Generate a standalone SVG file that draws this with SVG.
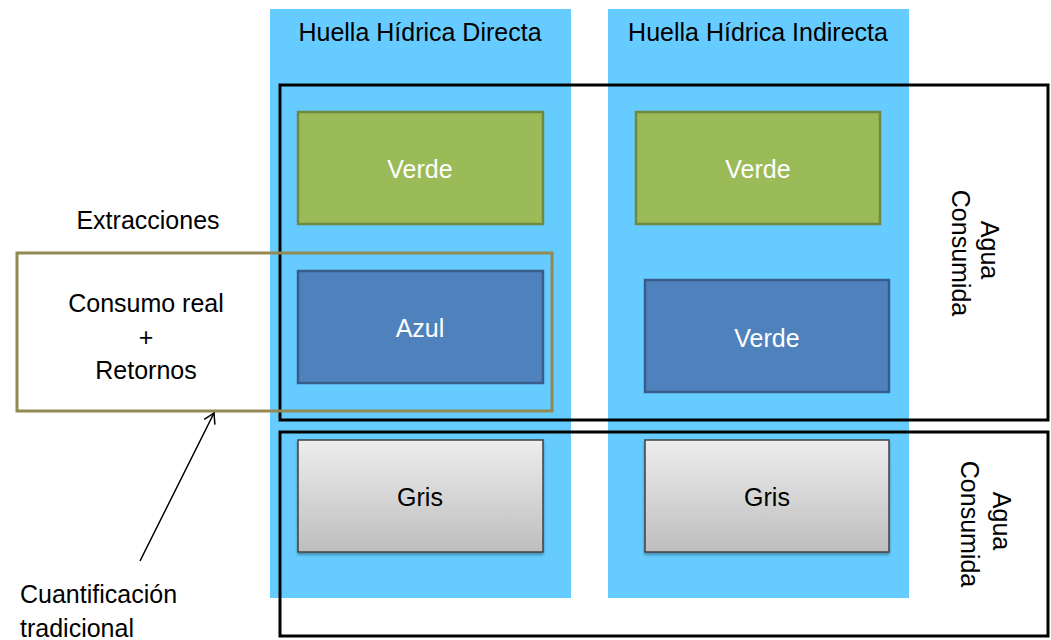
<svg xmlns="http://www.w3.org/2000/svg" width="1051" height="640" viewBox="0 0 1051 640">
<style>
text{font-family:"Liberation Sans",Arial,sans-serif;font-size:25px;fill:#000}
.w{fill:#fff}
.col{fill:#66CCFF}
.frame{fill:none;stroke:#000;stroke-width:3}
.green{fill:#9BBB59;stroke:#71893F;stroke-width:2.5}
.blue{fill:#4F81BD;stroke:#385D8A;stroke-width:2.5}
.gray{fill:url(#g);stroke:#404040;stroke-width:1.5}
</style>
<defs>
<linearGradient id="g" x1="0" y1="0" x2="0" y2="1"><stop offset="0" stop-color="#EDEDED"/><stop offset="1" stop-color="#BEBEBE"/></linearGradient>
<filter id="sh" x="-5%" y="-5%" width="110%" height="120%"><feDropShadow dx="0" dy="2" stdDeviation="1.5" flood-opacity="0.35"/></filter>
<marker id="ah" markerWidth="14" markerHeight="14" refX="11" refY="7" orient="auto" markerUnits="userSpaceOnUse"><path d="M1,1 L11,7 L1,13" fill="none" stroke="#000" stroke-width="1.5"/></marker>
</defs>
<g id="col-directa"><rect class="col" x="270" y="9" width="301" height="589"/><text x="420" y="41" text-anchor="middle">Huella Hídrica Directa</text></g>
<g id="col-indirecta"><rect class="col" x="608" y="9" width="301" height="589"/><text x="758" y="41" text-anchor="middle">Huella Hídrica Indirecta</text></g>
<g id="frame-top"><rect class="frame" x="280" y="85" width="768" height="335"/><text transform="translate(981,250) rotate(90)" text-anchor="middle">Agua</text><text transform="translate(952,253) rotate(90)" text-anchor="middle">Consumida</text></g>
<g id="frame-bottom"><rect class="frame" x="280" y="432" width="768" height="204"/><text transform="translate(993,521) rotate(90)" text-anchor="middle">Agua</text><text transform="translate(961,524) rotate(90)" text-anchor="middle">Consumida</text></g>
<g id="verde-directa"><rect class="green" x="298" y="112" width="245" height="112"/><text class="w" x="420" y="178" text-anchor="middle">Verde</text></g>
<g id="verde-indirecta"><rect class="green" x="636" y="112" width="244" height="112"/><text class="w" x="758" y="178" text-anchor="middle">Verde</text></g>
<g id="azul-directa"><rect class="blue" x="298" y="271" width="245" height="112"/><text class="w" x="420" y="337" text-anchor="middle">Azul</text></g>
<g id="verde2-indirecta"><rect class="blue" x="645" y="280" width="244" height="112"/><text class="w" x="767" y="347" text-anchor="middle">Verde</text></g>
<g id="gris-directa"><rect class="gray" filter="url(#sh)" x="298" y="440" width="245" height="112"/><text x="420" y="506" text-anchor="middle">Gris</text></g>
<g id="gris-indirecta"><rect class="gray" filter="url(#sh)" x="645" y="440" width="244" height="112"/><text x="767" y="506" text-anchor="middle">Gris</text></g>
<g id="extracciones"><text x="148" y="229" text-anchor="middle">Extracciones</text><rect x="17" y="253" width="535" height="158" fill="none" stroke="#938953" stroke-width="3"/><text x="146" y="312" text-anchor="middle">Consumo real</text><text x="146" y="346" text-anchor="middle">+</text><text x="146" y="379" text-anchor="middle">Retornos</text></g>
<g id="cuantificacion"><text x="20" y="603">Cuantificación</text><text x="20" y="637">tradicional</text></g>
<g id="connectors"><line x1="140" y1="561" x2="214" y2="413" stroke="#000" stroke-width="1.5" marker-end="url(#ah)"/></g>
</svg>
